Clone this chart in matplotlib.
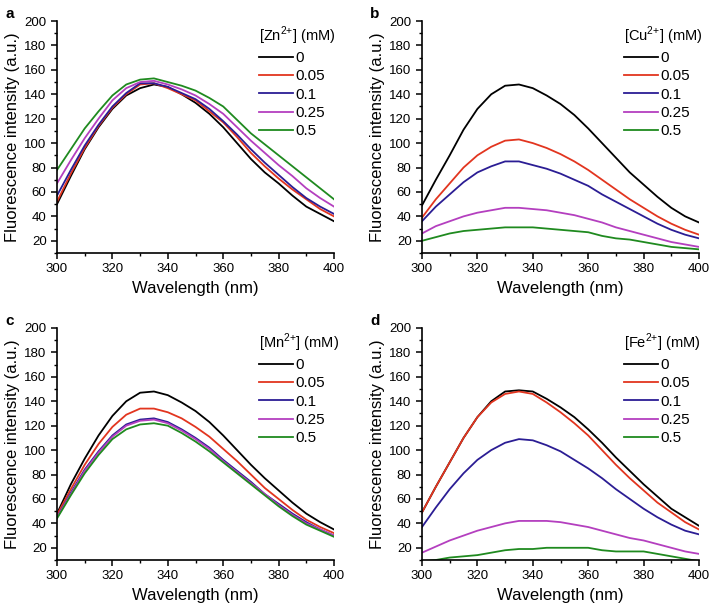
import numpy as np
import matplotlib.pyplot as plt
from matplotlib.ticker import MultipleLocator

plt.rcParams['font.family'] = ['Liberation Sans', 'DejaVu Sans']
plt.rcParams['mathtext.fontset'] = 'custom'
plt.rcParams['mathtext.rm'] = 'Liberation Sans'

wl = np.arange(300, 401, 5)
conc = ['0', '0.05', '0.1', '0.25', '0.5']
colors = ['#000000', '#e2351f', '#2b1d94', '#b43fbf', '#1f8a1f']

# panel a: Zn2+
zn_0 = [50, 73, 95, 113, 128, 139, 145, 148, 146, 140, 133, 124, 113, 100, 87, 76, 67, 57, 48, 42, 36]
zn_005 = [52, 75, 96, 114, 129, 140, 148, 149, 145, 140, 135, 126, 117, 105, 92, 81, 71, 62, 54, 46, 40]
zn_01 = [57, 78, 98, 115, 130, 141, 149, 149, 146, 141, 136, 128, 118, 107, 95, 84, 74, 64, 55, 48, 42]
zn_025 = [67, 86, 104, 120, 135, 145, 150, 151, 148, 144, 139, 132, 124, 113, 102, 92, 82, 73, 63, 55, 48]
zn_05 = [78, 95, 112, 126, 139, 148, 152, 153, 150, 147, 143, 137, 130, 119, 108, 99, 90, 81, 72, 63, 54]

# panel b: Cu2+
cu_0 = [49, 70, 90, 111, 128, 140, 147, 148, 145, 139, 132, 123, 112, 100, 88, 76, 66, 56, 47, 40, 35]
cu_005 = [39, 54, 67, 80, 90, 97, 102, 103, 100, 96, 91, 85, 78, 70, 62, 54, 47, 40, 34, 29, 25]
cu_01 = [36, 48, 58, 68, 76, 81, 85, 85, 82, 79, 75, 70, 65, 58, 52, 46, 40, 34, 29, 25, 22]
cu_025 = [26, 32, 36, 40, 43, 45, 47, 47, 46, 45, 43, 41, 38, 35, 31, 28, 25, 22, 19, 17, 15]
cu_05 = [20, 23, 26, 28, 29, 30, 31, 31, 31, 30, 29, 28, 27, 24, 22, 21, 19, 17, 15, 14, 13]

# panel c: Mn2+
mn_0 = [48, 72, 93, 112, 128, 140, 147, 148, 145, 139, 132, 123, 112, 100, 88, 77, 67, 57, 48, 41, 35]
mn_005 = [47, 68, 88, 105, 119, 129, 134, 134, 131, 126, 119, 111, 101, 91, 80, 69, 60, 51, 43, 37, 32]
mn_01 = [45, 65, 84, 99, 112, 121, 125, 126, 123, 117, 110, 102, 92, 83, 74, 64, 56, 48, 41, 35, 30]
mn_025 = [45, 64, 83, 98, 111, 120, 124, 125, 122, 116, 109, 101, 91, 82, 73, 64, 55, 47, 40, 35, 30]
mn_05 = [44, 63, 81, 96, 109, 117, 121, 122, 120, 114, 107, 99, 90, 81, 72, 63, 54, 46, 39, 34, 29]

# panel d: Fe2+
fe_0 = [49, 70, 90, 110, 127, 140, 148, 149, 148, 142, 135, 127, 117, 106, 94, 83, 72, 62, 52, 45, 38]
fe_005 = [49, 70, 90, 110, 127, 139, 146, 148, 146, 139, 131, 122, 112, 100, 88, 77, 67, 57, 49, 41, 35]
fe_01 = [37, 53, 68, 81, 92, 100, 106, 109, 108, 104, 99, 92, 85, 77, 68, 60, 52, 45, 39, 34, 31]
fe_025 = [16, 21, 26, 30, 34, 37, 40, 42, 42, 42, 41, 39, 37, 34, 31, 28, 26, 23, 20, 17, 15]
fe_05 = [9, 10, 12, 13, 14, 16, 18, 19, 19, 20, 20, 20, 20, 18, 17, 17, 17, 15, 13, 11, 9]

panels = [
    ('a', r'[Zn$^{2{+}}$] (mM)', [zn_0, zn_005, zn_01, zn_025, zn_05]),
    ('b', r'[Cu$^{2{+}}$] (mM)', [cu_0, cu_005, cu_01, cu_025, cu_05]),
    ('c', r'[Mn$^{2{+}}$] (mM)', [mn_0, mn_005, mn_01, mn_025, mn_05]),
    ('d', r'[Fe$^{2{+}}$] (mM)', [fe_0, fe_005, fe_01, fe_025, fe_05]),
]

fig = plt.figure(figsize=(7.09, 6.09), dpi=100)
W, H = 709, 609
boxes = [(57, 21), (422, 21), (57, 328), (422, 328)]
aw, ah = 277, 232

for (letter, title, series), (px, py) in zip(panels, boxes):
    ax = fig.add_axes([px / W, 1 - (py + ah) / H, aw / W, ah / H])
    for ys, c, lab in zip(series, colors, conc):
        ax.plot(wl, ys, color=c, lw=1.3, label=lab)
    ax.set_xlim(300, 400)
    ax.set_ylim(10, 200)
    ax.xaxis.set_major_locator(MultipleLocator(20))
    ax.xaxis.set_minor_locator(MultipleLocator(10))
    ax.yaxis.set_minor_locator(MultipleLocator(10))
    ax.set_yticks(range(20, 201, 20))
    for s in ['top', 'right']:
        ax.spines[s].set_visible(False)
    for s in ['left', 'bottom']:
        ax.spines[s].set_linewidth(1.2)
    ax.tick_params(which='major', direction='out', length=4, width=1.1, labelsize=9.5)
    ax.tick_params(which='minor', direction='out', length=2.5, width=1.0)
    ax.set_xlabel('Wavelength (nm)', fontsize=12)
    ax.set_ylabel('Fluorescence intensity (a.u.)', fontsize=12, labelpad=3)
    ax.legend(title=title, loc='upper left', bbox_to_anchor=(0.73, 0.985),
              frameon=False, fontsize=11, title_fontsize=10.5,
              handlelength=2.2, handletextpad=0.15, labelspacing=0.28,
              borderpad=0, borderaxespad=0, alignment='left')
    fig.text((px - 52) / W, 1 - (py - 14) / H, letter, fontsize=11,
             fontweight='bold', va='top', ha='left')

fig.savefig('out.png', dpi=100)
